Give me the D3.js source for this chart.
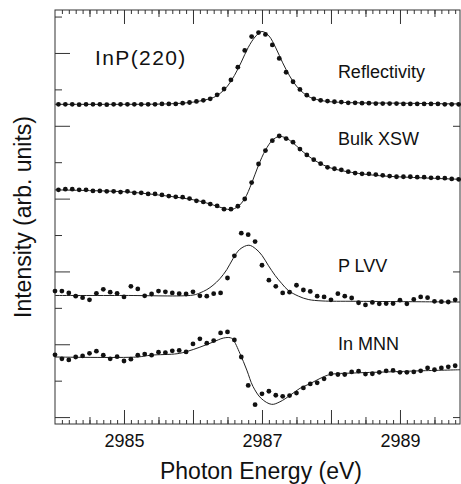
<!DOCTYPE html>
<html>
<head>
<meta charset="utf-8">
<script src="https://cdn.jsdelivr.net/npm/d3@7"></script>
<style>
  body { margin: 0; background: #fff; }
  text { font-family: "Liberation Sans", Arial, Helvetica, sans-serif; fill: #111; }
</style>
</head>
<body>
<svg id="chart" width="461" height="484"></svg>
<script>
// photon energy grids (eV) of the two scans
const energyA = [2984.05, 2984.15, 2984.25, 2984.35, 2984.45, 2984.55, 2984.65, 2984.75, 2984.85, 2984.95,
  2985.05, 2985.15, 2985.25, 2985.35, 2985.45, 2985.55, 2985.65, 2985.75, 2985.85, 2985.95,
  2986.05, 2986.15, 2986.25, 2986.35, 2986.45, 2986.55, 2986.65, 2986.75, 2986.85, 2986.95,
  2987.05, 2987.15, 2987.25, 2987.35, 2987.45, 2987.55, 2987.65, 2987.75, 2987.85, 2987.95,
  2988.05, 2988.15, 2988.25, 2988.35, 2988.45, 2988.55, 2988.65, 2988.75, 2988.85, 2988.95,
  2989.05, 2989.15, 2989.25, 2989.35, 2989.45, 2989.55, 2989.65, 2989.75, 2989.85];
const energyB = [2984.0, 2984.1, 2984.2, 2984.3, 2984.4, 2984.5, 2984.6, 2984.7, 2984.8, 2984.9,
  2985.0, 2985.1, 2985.2, 2985.3, 2985.4, 2985.5, 2985.6, 2985.7, 2985.8, 2985.9,
  2986.0, 2986.1, 2986.2, 2986.3, 2986.4, 2986.5, 2986.6, 2986.7, 2986.8, 2986.9,
  2987.0, 2987.1, 2987.2, 2987.3, 2987.4, 2987.5, 2987.6, 2987.7, 2987.8, 2987.9,
  2988.0, 2988.1, 2988.2, 2988.3, 2988.4, 2988.5, 2988.6, 2988.7, 2988.8, 2988.9,
  2989.0, 2989.1, 2989.2, 2989.3, 2989.4, 2989.5, 2989.6, 2989.7, 2989.8];

// measured points (offset, arb. units)
const reflectivity = [8.59, 8.59, 8.59, 8.58, 8.59, 8.59, 8.59, 8.58, 8.59, 8.59,
  8.59, 8.59, 8.59, 8.59, 8.59, 8.60, 8.60, 8.60, 8.62, 8.64,
  8.67, 8.70, 8.74, 8.85, 9.01, 9.26, 9.61, 10.07, 10.45, 10.56,
  10.51, 10.22, 9.85, 9.47, 9.21, 9.00, 8.84, 8.74, 8.70, 8.68,
  8.66, 8.65, 8.63, 8.63, 8.62, 8.62, 8.61, 8.61, 8.61, 8.61,
  8.60, 8.60, 8.60, 8.60, 8.60, 8.60, 8.59, 8.59, 8.59];
const bulkXSW = [6.24, 6.26, 6.26, 6.24, 6.24, 6.21, 6.21, 6.20, 6.20, 6.18,
  6.20, 6.16, 6.16, 6.13, 6.13, 6.10, 6.07, 6.05, 6.04, 6.00,
  5.94, 5.91, 5.85, 5.80, 5.71, 5.71, 5.79, 5.99, 6.44, 6.95,
  7.32, 7.59, 7.72, 7.65, 7.55, 7.36, 7.20, 7.07, 6.96, 6.86,
  6.82, 6.79, 6.74, 6.70, 6.68, 6.68, 6.66, 6.64, 6.62, 6.60,
  6.60, 6.60, 6.59, 6.59, 6.57, 6.57, 6.56, 6.54, 6.53];
const pLVV = [3.46, 3.46, 3.41, 3.32, 3.28, 3.22, 3.40, 3.51, 3.43, 3.40,
  3.30, 3.59, 3.52, 3.33, 3.38, 3.46, 3.44, 3.41, 3.39, 3.38,
  3.44, 3.33, 3.32, 3.39, 3.41, 3.82, 4.43, 5.05, 5.01, 4.82,
  4.17, 3.76, 3.59, 3.41, 3.43, 3.62, 3.49, 3.45, 3.32, 3.30,
  3.22, 3.39, 3.32, 3.27, 3.14, 3.08, 3.15, 3.11, 3.12, 3.12,
  3.21, 3.11, 3.23, 3.30, 3.28, 3.18, 3.17, 3.16, 3.22];
const inMNN = [1.71, 1.60, 1.57, 1.65, 1.68, 1.75, 1.81, 1.70, 1.60, 1.66,
  1.54, 1.59, 1.70, 1.73, 1.70, 1.78, 1.77, 1.82, 1.83, 1.79,
  2.01, 2.15, 2.03, 2.10, 2.31, 2.34, 2.12, 1.65, 0.87, 0.34,
  0.64, 0.71, 0.60, 0.57, 0.59, 0.66, 0.80, 0.91, 0.94, 1.05,
  1.19, 1.17, 1.17, 1.24, 1.26, 1.18, 1.19, 1.23, 1.27, 1.28,
  1.23, 1.23, 1.24, 1.27, 1.35, 1.30, 1.35, 1.38, 1.41];

// fitted curves (knots)
const fitReflE = [2984.0, 2985.0, 2985.6, 2985.9, 2986.1, 2986.3, 2986.4, 2986.5, 2986.6, 2986.7, 2986.8, 2986.9,
  2987.0, 2987.1, 2987.2, 2987.3, 2987.4, 2987.5, 2987.6, 2987.7, 2987.9, 2988.2, 2989.0, 2989.87];
const fitReflV = [8.59, 8.59, 8.60, 8.63, 8.68, 8.78, 8.90, 9.09, 9.38, 9.75, 10.15, 10.44,
  10.59, 10.47, 10.14, 9.73, 9.37, 9.09, 8.90, 8.78, 8.68, 8.64, 8.62, 8.60];
const fitBulkE = [2984.0, 2984.5, 2985.0, 2985.5, 2985.9, 2986.1, 2986.3, 2986.45, 2986.55, 2986.65, 2986.75, 2986.85,
  2986.95, 2987.05, 2987.15, 2987.25, 2987.35, 2987.45, 2987.55, 2987.65, 2987.8, 2988.0, 2988.3, 2988.7, 2989.2, 2989.87];
const fitBulkV = [6.24, 6.22, 6.19, 6.10, 6.00, 5.93, 5.82, 5.73, 5.70, 5.78, 6.00, 6.42,
  6.92, 7.33, 7.60, 7.71, 7.66, 7.53, 7.36, 7.20, 7.01, 6.84, 6.72, 6.63, 6.58, 6.53];
const fitPE = [2984.0, 2985.0, 2986.0, 2986.1, 2986.2, 2986.29, 2986.39, 2986.49, 2986.58, 2986.68, 2986.81,
  2986.91, 2987.0, 2987.09, 2987.19, 2987.29, 2987.38, 2987.53, 2987.67, 2987.87, 2988.35, 2989.87];
const fitPV = [3.34, 3.34, 3.35, 3.41, 3.50, 3.62, 3.80, 4.05, 4.35, 4.61, 4.72,
  4.62, 4.44, 4.17, 3.89, 3.66, 3.48, 3.32, 3.23, 3.19, 3.18, 3.16];
const fitInE = [2984.0, 2985.19, 2985.39, 2985.77, 2985.91, 2986.1, 2986.29, 2986.44, 2986.54, 2986.58, 2986.68,
  2986.78, 2986.87, 2986.99, 2987.14, 2987.26, 2987.41, 2987.55, 2987.70, 2987.84, 2987.99, 2988.32, 2988.81, 2989.29, 2989.87];
const fitInV = [1.65, 1.65, 1.70, 1.74, 1.80, 1.92, 2.06, 2.17, 2.18, 2.13, 1.75,
  1.29, 0.84, 0.51, 0.35, 0.42, 0.60, 0.79, 0.92, 1.06, 1.17, 1.21, 1.24, 1.27, 1.30];

const seriesNames = ["Reflectivity", "Bulk XSW", "P LVV", "In MNN"];
const labelLevels = [9.31, 7.47, 3.99, 1.84];
const xTickLabels = [2985, 2987, 2989];

const svg = d3.select("#chart");
const x = d3.scaleLinear().domain([2984, 2989.87]).range([55, 460]);
const y = d3.scaleLinear().domain([-0.19, 11.18]).range([424, 10]);

const tickColor = "#333";
function styleAxis(g) {
  g.select(".domain").remove();
  g.selectAll(".tick line").attr("stroke", tickColor);
}

// bottom axis
const minorE = d3.range(2984.1, 2989.86, 0.1);
const midE = d3.range(2984.5, 2989.86, 1);
const majorE = d3.range(2985, 2989.5, 1);
svg.append("g").attr("transform", "translate(0,424)")
  .call(d3.axisBottom(x).tickValues(minorE).tickSize(-4).tickFormat("")).call(styleAxis);
svg.append("g").attr("transform", "translate(0,424)")
  .call(d3.axisBottom(x).tickValues(midE).tickSize(-7).tickFormat("")).call(styleAxis);
svg.append("g").attr("transform", "translate(0,424)")
  .call(d3.axisBottom(x).tickValues(majorE).tickSize(-14).tickPadding(10)
    .tickFormat(d => xTickLabels.includes(d) ? d : ""))
  .call(styleAxis)
  .selectAll("text").style("font-size", "18px").attr("fill", "#111");

// top axis
svg.append("g").attr("transform", "translate(0,10)")
  .call(d3.axisTop(x).tickValues(minorE).tickSize(-4).tickFormat("")).call(styleAxis);
svg.append("g").attr("transform", "translate(0,10)")
  .call(d3.axisTop(x).tickValues(midE).tickSize(-7).tickFormat("")).call(styleAxis);
svg.append("g").attr("transform", "translate(0,10)")
  .call(d3.axisTop(x).tickValues(majorE).tickSize(-14).tickFormat("")).call(styleAxis);

// left / right axes
const yTicks = d3.range(0, 12);
svg.append("g").attr("transform", "translate(55,0)")
  .call(d3.axisLeft(y).tickValues(yTicks.filter(d => d % 2 === 0)).tickSize(-15).tickFormat("")).call(styleAxis);
svg.append("g").attr("transform", "translate(55,0)")
  .call(d3.axisLeft(y).tickValues(yTicks.filter(d => d % 2 === 1)).tickSize(-7).tickFormat("")).call(styleAxis);
svg.append("g").attr("transform", "translate(460,0)")
  .call(d3.axisRight(y).tickValues([0, 4, 8]).tickSize(-7).tickFormat("")).call(styleAxis);

// frame
svg.append("rect")
  .attr("x", 55).attr("y", 10).attr("width", 405).attr("height", 414)
  .attr("fill", "none").attr("stroke", tickColor).attr("stroke-width", 1);

// fits
const line = d3.line().x(d => x(d[0])).y(d => y(d[1])).curve(d3.curveCatmullRom.alpha(0.5));
const fits = [[fitReflE, fitReflV], [fitBulkE, fitBulkV], [fitPE, fitPV], [fitInE, fitInV]];
fits.forEach(([es, vs]) => {
  svg.append("path")
    .datum(es.map((e, i) => [e, vs[i]]))
    .attr("d", line)
    .attr("fill", "none")
    .attr("stroke", "#222")
    .attr("stroke-width", 1);
});

// points
const pointSets = [[energyA, reflectivity], [energyA, bulkXSW], [energyB, pLVV], [energyB, inMNN]];
pointSets.forEach(([es, vs]) => {
  svg.append("g").selectAll("circle")
    .data(es.map((e, i) => [e, vs[i]]))
    .enter()
    .append("circle")
    .attr("cx", d => x(d[0]))
    .attr("cy", d => y(d[1]))
    .attr("r", 2.4)
    .attr("fill", "#111");
});

// labels
svg.selectAll(".slabel")
  .data(seriesNames)
  .enter()
  .append("text")
  .attr("class", "slabel")
  .attr("x", x(2988.1))
  .attr("y", (d, i) => y(labelLevels[i]))
  .style("font-size", "18px")
  .text(d => d);

svg.append("text")
  .attr("x", 95).attr("y", 65)
  .style("font-size", "21px").style("letter-spacing", "1.4px")
  .text("InP(220)");

svg.append("text")
  .attr("x", 261).attr("y", 479)
  .attr("text-anchor", "middle")
  .style("font-size", "23px")
  .text("Photon Energy (eV)");

svg.append("text")
  .attr("transform", "translate(31,217) rotate(-90)")
  .attr("text-anchor", "middle")
  .style("font-size", "23px")
  .text("Intensity (arb. units)");
</script>
</body>
</html>
